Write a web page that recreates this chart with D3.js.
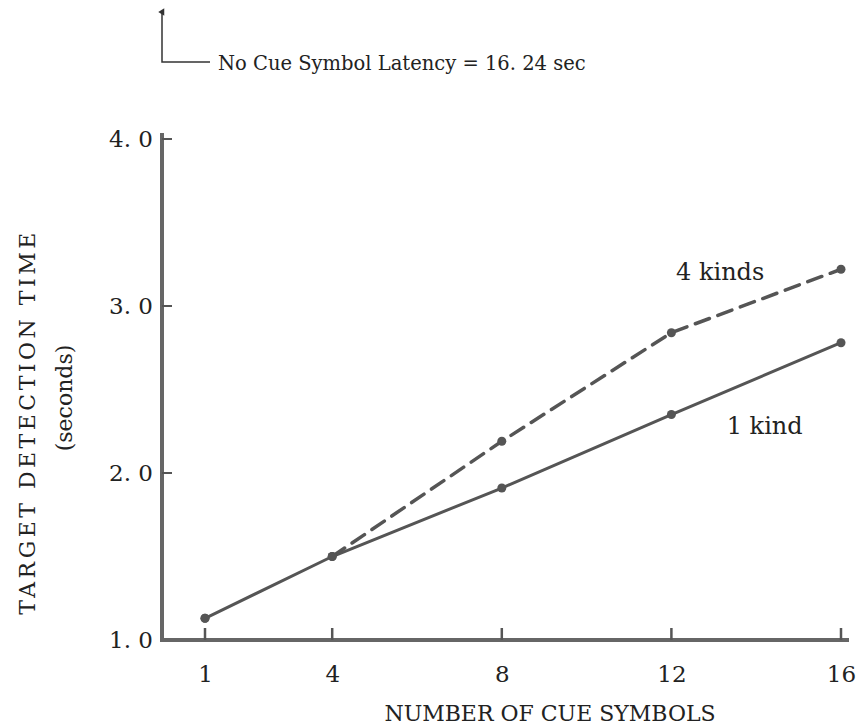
<!DOCTYPE html>
<html>
<head>
<meta charset="utf-8">
<script src="https://cdn.jsdelivr.net/npm/d3@7"></script>
<style>
  html, body { margin: 0; padding: 0; background: #fff; }
  svg { display: block; }
  text { font-family: "DejaVu Serif", "Liberation Serif", serif; fill: #222; }
</style>
</head>
<body>
<svg id="chart" width="860" height="728"></svg>
<script>
// ---- data ----
const cueSymbols = [1, 4, 8, 12, 16];
const oneKind   = [1.13, 1.50, 1.91, 2.35, 2.78];
const fourKinds = [1.13, 1.50, 2.19, 2.84, 3.22];
const xTicks = [1, 4, 8, 12, 16];
const yTicks = [1.0, 2.0, 3.0, 4.0];
const yTickLabels = ["1. 0", "2. 0", "3. 0", "4. 0"];
const seriesLabels = ["1 kind", "4 kinds"];
const xTitle = "NUMBER OF CUE SYMBOLS";
const yTitle = "TARGET DETECTION TIME";
const yUnit = "(seconds)";
const noteText = "No Cue Symbol Latency = 16. 24 sec";

const svg = d3.select("#chart");
const ink = "#555";

const x = d3.scaleLinear().domain([1, 16]).range([205, 841]);
const y = d3.scaleLinear().domain([1, 4]).range([640, 139]);

// axes lines
svg.append("line").attr("x1", 162).attr("x2", 162).attr("y1", 133).attr("y2", 642)
  .attr("stroke", "#666").attr("stroke-width", 4);
svg.append("line").attr("x1", 160).attr("x2", 849).attr("y1", 640).attr("y2", 640)
  .attr("stroke", "#666").attr("stroke-width", 4);

// y axis ticks (inside) and labels
const yAxis = d3.axisLeft(y).tickValues(yTicks).tickSize(0)
  .tickFormat((d, i) => yTickLabels[i]).tickPadding(9);
const gy = svg.append("g").attr("transform", "translate(162,0)").call(yAxis);
gy.select(".domain").remove();
gy.selectAll("text").style("font-size", "23px");
svg.selectAll(".ytick").data(yTicks.slice(1)).enter().append("line")
  .attr("x1", 162).attr("x2", 172).attr("y1", d => y(d)).attr("y2", d => y(d))
  .attr("stroke", ink).attr("stroke-width", 2);

// x axis ticks (inside) and labels
const xAxis = d3.axisBottom(x).tickValues(xTicks).tickSize(0).tickPadding(26);
const gx = svg.append("g").attr("transform", "translate(0,640)").call(xAxis);
gx.select(".domain").remove();
gx.selectAll("text").style("font-size", "23px");
svg.selectAll(".xtick").data(xTicks).enter().append("line")
  .attr("x1", d => x(d)).attr("x2", d => x(d)).attr("y1", 640).attr("y2", 628)
  .attr("stroke", ink).attr("stroke-width", 2.5);

// lines
const line = d3.line().x(d => x(d[0])).y(d => y(d[1]));
const fourData = cueSymbols.map((c, i) => [c, fourKinds[i]]);
const oneData = cueSymbols.map((c, i) => [c, oneKind[i]]);

svg.append("path").datum(fourData.slice(1)).attr("d", line)
  .attr("fill", "none").attr("stroke", ink).attr("stroke-width", 3.5)
  .attr("stroke-dasharray", "15,9").attr("stroke-linecap", "round");
svg.append("path").datum(oneData).attr("d", line)
  .attr("fill", "none").attr("stroke", ink).attr("stroke-width", 3);

svg.selectAll(".p4").data(fourData).enter().append("circle")
  .attr("cx", d => x(d[0])).attr("cy", d => y(d[1])).attr("r", 4.5).attr("fill", ink);
svg.selectAll(".p1").data(oneData).enter().append("circle")
  .attr("cx", d => x(d[0])).attr("cy", d => y(d[1])).attr("r", 4.5).attr("fill", ink);

// series labels
svg.append("text").attr("x", x(13.15)).attr("y", y(2.84) - 53).attr("text-anchor", "middle")
  .style("font-size", "24px").text(seriesLabels[1]);
svg.append("text").attr("x", x(14.2)).attr("y", y(2.35) + 19).attr("text-anchor", "middle")
  .style("font-size", "24px").text(seriesLabels[0]);

// axis titles
svg.append("text").attr("x", 550).attr("y", 721).attr("text-anchor", "middle")
  .style("font-size", "22px").text(xTitle);
svg.append("text").attr("transform", "translate(35,422) rotate(-90)").attr("text-anchor", "middle")
  .style("font-size", "22px").style("letter-spacing", "3.5px").text(yTitle);
svg.append("text").attr("transform", "translate(72,398) rotate(-90)").attr("text-anchor", "middle")
  .style("font-size", "22px").text(yUnit);

// top annotation with arrow
svg.append("defs").append("marker").attr("id", "arrow").attr("viewBox", "0 0 10 10")
  .attr("refX", 5).attr("refY", 5).attr("markerWidth", 5).attr("markerHeight", 7)
  .attr("orient", "auto")
  .append("path").attr("d", "M0,8 L5,0 L10,8 Z").attr("fill", "#333");
svg.append("path").attr("d", "M210,62 L162,62 L162,12")
  .attr("fill", "none").attr("stroke", "#333").attr("stroke-width", 1.5)
  .attr("marker-end", "url(#arrow)");
svg.append("text").attr("x", 218).attr("y", 70).style("font-size", "19.5px").text(noteText);
</script>
</body>
</html>
